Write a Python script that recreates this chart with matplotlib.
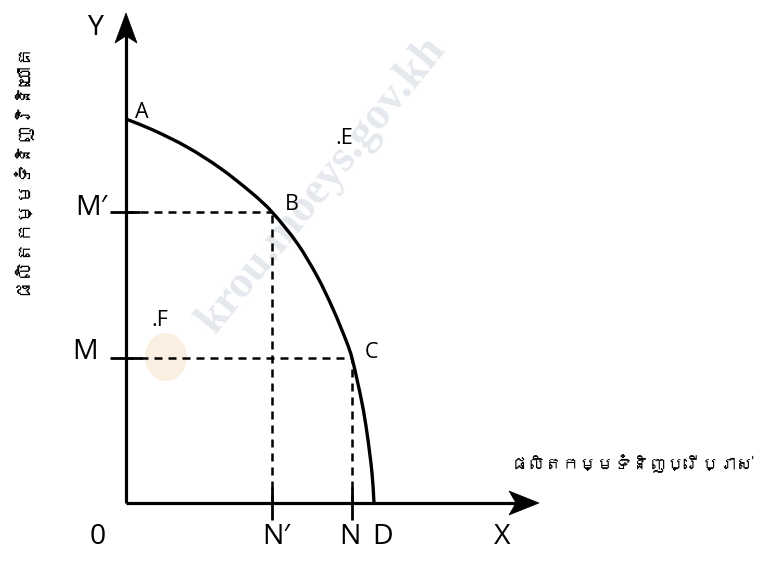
import math
import matplotlib
matplotlib.use("Agg")
import matplotlib.pyplot as plt
from matplotlib.patches import Polygon, Ellipse, PathPatch
from matplotlib.path import Path
from matplotlib import font_manager
from matplotlib.ft2font import FT2Font

# ---- data (diagram units, origin at 0) ----
ppf_x = [0, 27, 61, 94, 127, 146, 171, 191, 207, 221, 226, 236, 241, 246, 248]
ppf_y = [384, 373, 356, 335, 309, 291, 260, 227, 194, 160, 145, 100, 70, 30, 0]
point_B = (146, 291)
point_C = (226, 145)
point_E = (218, 365)
point_F = (34, 182)
x_axis_end = 413
y_axis_end = 490
x_label = "ផលិតកម្មទំនិញប្រើប្រាស់"
y_label = "ផលិតកម្មទំនិញវិនិយោគ"


def find_khmer_font():
    for f in font_manager.fontManager.ttflist:
        try:
            cm = FT2Font(f.fname).get_charmap()
            if 0x1780 in cm and 0x17D2 in cm:
                return f.name
        except Exception:
            pass
    return None


def smooth_path(xs, ys):
    # smooth cubic Bezier through the read points (tangent from neighbours)
    pts = list(zip(xs, ys))
    n = len(pts)

    def unit(a, b):
        dx, dy = b[0] - a[0], b[1] - a[1]
        L = math.hypot(dx, dy) or 1.0
        return dx / L, dy / L

    tans = []
    for i in range(n):
        a = pts[i - 1] if i > 0 else pts[i]
        b = pts[i + 1] if i < n - 1 else pts[i]
        tans.append(unit(a, b))
    verts = [pts[0]]
    codes = [Path.MOVETO]
    for i in range(n - 1):
        p1, p2 = pts[i], pts[i + 1]
        L = math.hypot(p2[0] - p1[0], p2[1] - p1[1]) / 3.0
        c1 = (p1[0] + tans[i][0] * L, p1[1] + tans[i][1] * L)
        c2 = (p2[0] - tans[i + 1][0] * L, p2[1] - tans[i + 1][1] * L)
        verts += [c1, c2, p2]
        codes += [Path.CURVE4] * 3
    return Path(verts, codes)


kh = find_khmer_font()
kh_family = [kh, "DejaVu Sans"] if kh else ["DejaVu Sans"]
lat = ["Open Sans", "DejaVu Sans"]

fig = plt.figure(figsize=(7.63, 5.62), dpi=100)
ax = fig.add_axes([0, 0, 1, 1])
ax.set_xlim(-126, 637)
ax.set_ylim(-59, 503)
ax.axis("off")

# watermark
ax.text(196, 318, "krou.moeys.gov.kh", rotation=51, fontsize=33, color="#e5e9ee",
        fontweight="bold", ha="center", va="center",
        family=["Liberation Serif", "DejaVu Serif"], zorder=0)
ax.add_patch(Ellipse((40, 146), 42, 48, facecolor="#f9ecd9", edgecolor="none", alpha=0.8, zorder=0))

lw_axis = 2.3
# axes
ax.plot([0, 0], [0, y_axis_end - 20], color="black", lw=lw_axis, solid_capstyle="butt", zorder=3)
ax.plot([0, x_axis_end - 20], [0, 0], color="black", lw=lw_axis, solid_capstyle="butt", zorder=3)
ax.add_patch(Polygon([(0, y_axis_end), (-11, y_axis_end - 30), (0, y_axis_end - 23), (11, y_axis_end - 30)],
                     closed=True, facecolor="black", edgecolor="black", lw=0.5, zorder=4))
ax.add_patch(Polygon([(x_axis_end, 0), (x_axis_end - 30, 12), (x_axis_end - 23, 0), (x_axis_end - 30, -12)],
                     closed=True, facecolor="black", edgecolor="black", lw=0.5, zorder=4))

# PPF curve
ax.add_patch(PathPatch(smooth_path(ppf_x, ppf_y), facecolor="none", edgecolor="black", lw=2.4, zorder=3))

# dashed guides
dash = dict(color="black", lw=1.8, linestyle=(0, (3.2, 2.4)), zorder=2)
ax.plot([0, point_B[0]], [point_B[1], point_B[1]], **dash)
ax.plot([point_B[0], point_B[0]], [0, point_B[1]], **dash)
ax.plot([0, point_C[0]], [point_C[1], point_C[1]], **dash)
ax.plot([point_C[0], point_C[0]], [0, point_C[1]], **dash)

# ticks
tk = dict(color="black", lw=2.0, solid_capstyle="butt", zorder=3)
ax.plot([-16, 14], [point_B[1], point_B[1]], **tk)
ax.plot([-16, 16], [point_C[1], point_C[1]], **tk)
ax.plot([point_B[0], point_B[0]], [-17, 16], **tk)
ax.plot([point_C[0], point_C[0]], [-17, 16], **tk)

big = dict(fontsize=20.5, family=lat, color="black", va="center")
small = dict(fontsize=15.5, family=lat, color="black", va="center")
ax.text(-31, 475, "Y", ha="center", **big)
ax.text(-19, point_B[1] + 4, "M′", ha="right", **big)
ax.text(-28, point_C[1] + 6, "M", ha="right", **big)
ax.text(-28, -34, "0", ha="center", **big)
ax.text(point_B[0] + 4, -34, "N′", ha="center", **big)
ax.text(point_C[0] - 2, -34, "N", ha="center", **big)
ax.text(257, -34, "D", ha="center", **big)
ax.text(376, -34, "X", ha="center", **big)

ax.text(16, 390, "A", ha="center", **small)
ax.text(point_B[0] + 20, point_B[1] + 8, "B", ha="center", **small)
ax.text(point_C[0] + 19, point_C[1] + 5, "C", ha="center", **small)
ax.text(point_E[0], point_E[1], ".E", ha="center", **small)
ax.text(point_F[0], point_F[1], ".F", ha="center", **small)

ax.text(506, 39, x_label, ha="center", va="center", fontsize=12.5, family=kh_family)
ax.text(-106, 335, y_label, ha="center", va="center", rotation=90, fontsize=14, family=kh_family)

fig.savefig("out.png", dpi=100)
